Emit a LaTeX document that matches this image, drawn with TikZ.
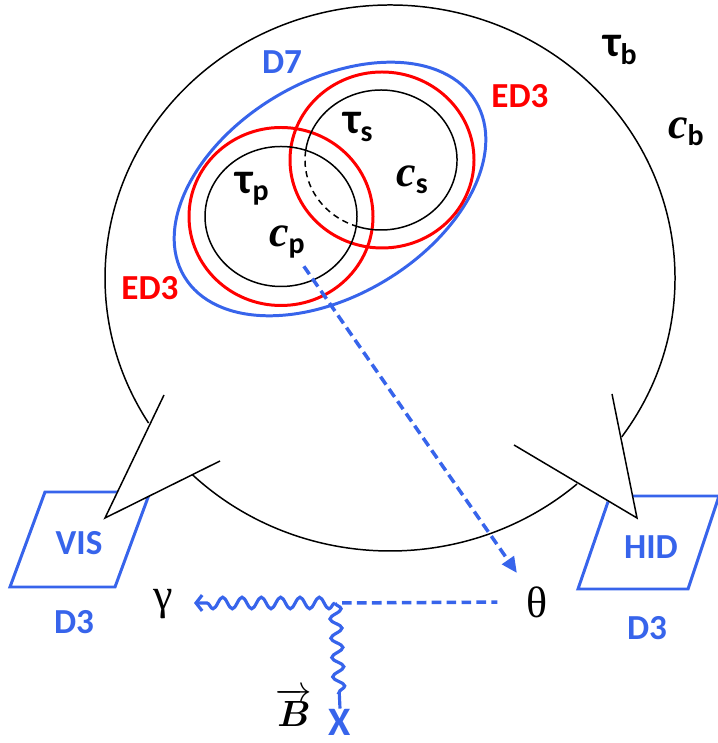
\documentclass[tikz,border=0pt]{standalone}
\usepackage{amsmath,amssymb}
\usepackage{fontspec}
\setmainfont{Carlito}
\newfontfamily\seriffont{Liberation Serif}
\usetikzlibrary{arrows.meta,positioning,decorations.pathmorphing,calc}
\definecolor{braneblue}{RGB}{55,100,235}
\newcommand{\lowidx}[1]{\raisebox{-0.35ex}{\fontsize{17}{17}\selectfont #1}}
\newcommand{\cvar}{{\seriffont\bfseries\itshape c}}

\begin{document}
\begin{tikzpicture}[x=0.02cm,y=0.02cm,
  lbl/.style={font=\fontsize{20}{24}\selectfont\bfseries},
  modulus/.style={font=\fontsize{25}{28}\selectfont\bfseries, inner sep=1pt},
  greek/.style={font=\seriffont\fontsize{25}{28}\selectfont},
  bulkline/.style={line width=0.85pt, line join=miter},
  brane/.style={braneblue, line width=1.7pt},
  photon/.style={braneblue, line width=1.8pt, decorate,
    decoration={snake, amplitude=3.3pt, segment length=11pt, post length=4pt}},
  axion/.style={braneblue, line width=2pt, dash pattern=on 5.5pt off 3pt}]
  \useasboundingbox (0,0) rectangle (717,743);

  % D3 branes
  \draw[brane] (45,251) -- (150,251) -- (115,156) -- (10,156) -- cycle;
  \draw[brane] (610,247) -- (719,247) -- (688,154) -- (578,154) -- cycle;
  \node[lbl, braneblue] (vis) at (79,200) {VIS};
  \node[lbl, braneblue] (hid) at (651,196) {HID};
  \node[lbl, braneblue] (d3vis) at (74,121) {D3};
  \node[lbl, braneblue] (d3hid) at (647,115) {D3};

  % bulk with the two tails
  \coordinate (bulk) at (390,465);
  \coordinate (ltip) at (105,225);
  \coordinate (rtip) at (637,225);
  \fill[white] (ltip) -- ($(bulk)+(212.1:285 and 273)$) -- ($(bulk)+(-133.9:285 and 273)$) -- cycle;
  \fill[white] (rtip) -- ($(bulk)+(-49:285 and 273)$) -- ($(bulk)+(-35.6:285 and 273)$) -- cycle;
  \draw[bulkline] ($(bulk)+(-35.6:285 and 273)$)
    arc[start angle=-35.6, end angle=212.1, x radius=285, y radius=273];
  \draw[bulkline] ($(bulk)+(-133.9:285 and 273)$)
    arc[start angle=-133.9, end angle=-49, x radius=285, y radius=273];
  \draw[bulkline] (164,348) -- (ltip) -- (220,282);
  \draw[bulkline] (612,349) -- (rtip) -- (514,298);

  % D7 and the two ED3s
  \draw[brane, rotate around={31:(330,554)}] (330,554) ellipse [x radius=170, y radius=107];
  \draw[red, line width=1.7pt] (281,526.5) ellipse [x radius=92, y radius=89];
  \draw[red, line width=1.7pt] (382,583) ellipse [x radius=92, y radius=88];
  \draw[bulkline] (281,526.5) ellipse [x radius=76, y radius=70];
  \coordinate (scen) at (381,583);
  \draw[bulkline] ($(scen)+(251:76 and 70)$) arc[start angle=251, end angle=532, x radius=76, y radius=70];
  \draw[bulkline, dash pattern=on 3.5pt off 2.5pt] ($(scen)+(172:76 and 70)$)
    arc[start angle=172, end angle=251, x radius=76, y radius=70];

  % labels
  \node[lbl, braneblue] (d7) at (282,681) {D7};
  \node[lbl, red] (ed3s) at (520,647) {ED3};
  \node[lbl, red] (ed3p) at (150,455) {ED3};
  \node[modulus] (taub) at (620,693) {τ\lowidx{b}};
  \node[modulus] (cb) at (686,611) {\cvar\lowidx{b}};
  \node[modulus] (taus) at (358,616) {τ\lowidx{s}};
  \node[modulus] (cs) at (412,563) {\cvar\lowidx{s}};
  \node[modulus] (taup) at (252,554) {τ\lowidx{p}};
  \node[modulus] (cp) at (287,501) {\cvar\lowidx{p}};

  % axion, photon and B field
  \node[greek] (gamma) at (163,139) {γ};
  \node[greek] (theta) at (537,141) {θ};
  \coordinate (vtx) at (335,140);
  \coordinate (gend) at (194,140);
  \node[font=\fontsize{23}{24}\selectfont\bfseries, braneblue, inner sep=0pt] (cross) at (340,21) {X};
  \node[font=\fontsize{20}{24}\selectfont, inner sep=0pt] (bvec) at (294,36) {$\overrightarrow{\boldsymbol{B}}$};
  \draw[axion, -{Triangle[length=9pt,width=8pt]}, shorten <=4pt, shorten >=5pt] (cp) -- (theta);
  \draw[axion, shorten <=4pt, shorten >=13pt] (vtx) -- (theta.west);
  \draw[photon, -{Straight Barb[length=3.5pt,width=9pt]}] (vtx) -- (gend);
  \draw[photon] (vtx) -- (cross.north);
\end{tikzpicture}
\end{document}
